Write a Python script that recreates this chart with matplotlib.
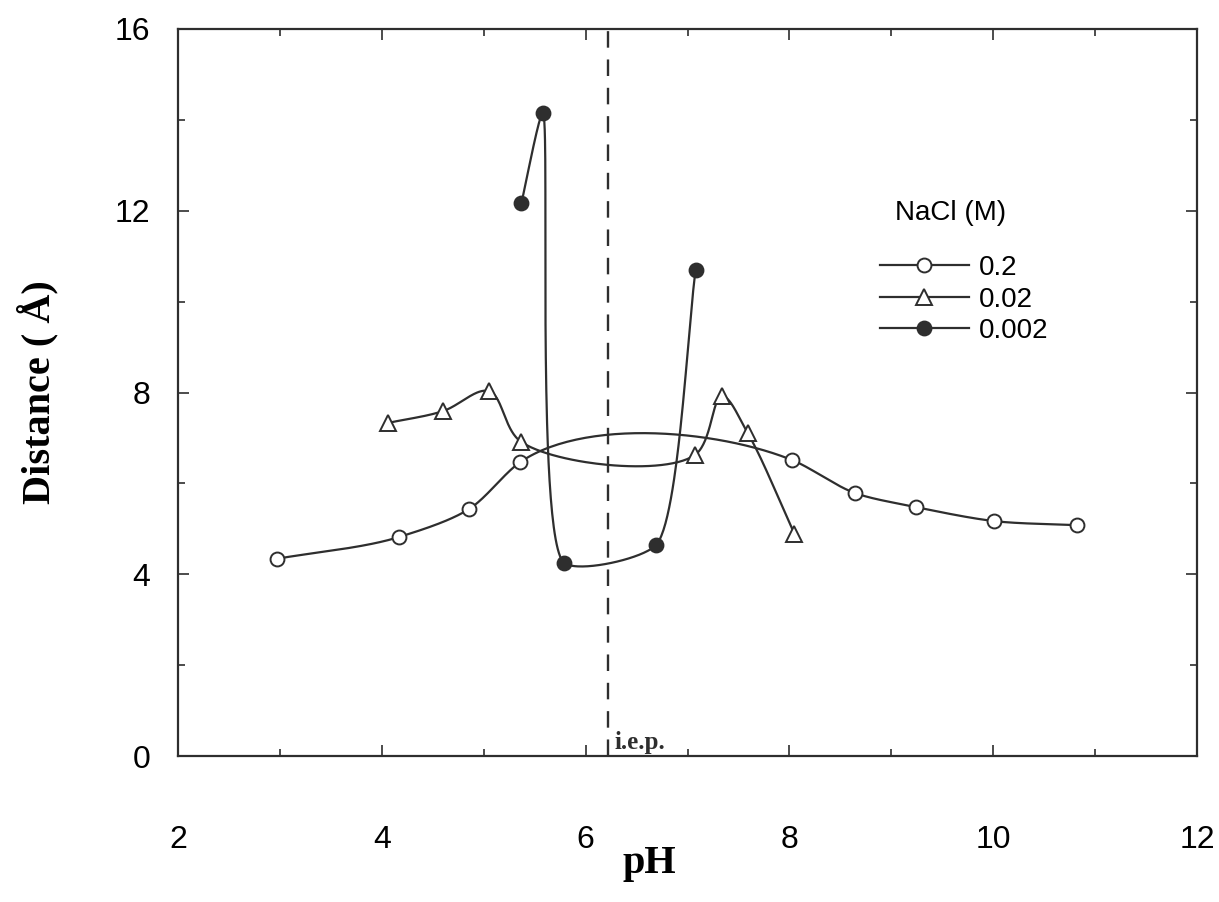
import numpy as np
import matplotlib.pyplot as plt
from matplotlib.ticker import MultipleLocator

# pH / distance readings for each NaCl concentration
ph_02 = [2.97, 4.17, 4.86, 5.36, 8.03, 8.64, 9.24, 10.01, 10.82]
dist_02 = [4.34, 4.82, 5.44, 6.47, 6.51, 5.79, 5.48, 5.17, 5.08]

ph_002 = [4.06, 4.60, 5.05, 5.37, 7.07, 7.34, 7.59, 8.05]
dist_002 = [7.33, 7.59, 8.03, 6.91, 6.62, 7.92, 7.11, 4.89]

ph_0002 = [5.37, 5.58, 5.79, 6.69, 7.08]
dist_0002 = [12.17, 14.15, 4.25, 4.64, 10.70]

labels = ["0.2", "0.02", "0.002"]
iep = 6.22

ink = "#2e2e2e"


def smooth(ax, xs, ys, alpha=0.5, tension=0.0, n=60):
    # Catmull-Rom style curve through the points, worked out in screen space
    pts = ax.transData.transform(np.column_stack([xs, ys]))
    p = np.vstack([2 * pts[0] - pts[1], pts, 2 * pts[-1] - pts[-2]])
    d = np.linalg.norm(np.diff(p, axis=0), axis=1) ** alpha
    t = np.concatenate([[0], np.cumsum(d)])
    u = np.linspace(0, 1, n)[:, None]
    h00 = 2 * u**3 - 3 * u**2 + 1
    h10 = u**3 - 2 * u**2 + u
    h01 = -2 * u**3 + 3 * u**2
    h11 = u**3 - u**2
    out = []
    for i in range(1, len(p) - 2):
        p0, p1, p2, p3 = p[i - 1:i + 3]
        t0, t1, t2, t3 = t[i - 1:i + 3]
        m1 = (p1 - p0) / (t1 - t0) - (p2 - p0) / (t2 - t0) + (p2 - p1) / (t2 - t1)
        m2 = (p2 - p1) / (t2 - t1) - (p3 - p1) / (t3 - t1) + (p3 - p2) / (t3 - t2)
        k = (t2 - t1) * (1 - tension)
        out.append(h00 * p1 + h10 * m1 * k + h01 * p2 + h11 * m2 * k)
    back = ax.transData.inverted().transform(np.vstack(out))
    return back[:, 0], back[:, 1]


fig = plt.figure(figsize=(12.19, 9.02), dpi=100, facecolor="white")
ax = fig.add_axes([178 / 1219, 1 - 756 / 902, 1019 / 1219, 727 / 902])
ax.set_xlim(2, 12)
ax.set_ylim(0, 16)

series = [(ph_02, dist_02, "o", "white", 10, 1.0, 0.1),
          (ph_002, dist_002, "^", "white", 11, 0.6, 0.0),
          (ph_0002, dist_0002, "o", ink, 10, 0.5, 0.4)]

for (x, y, m, fc, ms, a, ten), lab in zip(series, labels):
    sx, sy = smooth(ax, x, y, alpha=a, tension=ten)
    ax.plot(sx, sy, color=ink, lw=1.6, zorder=2)
    ax.plot(x, y, ls="none", marker=m, ms=ms, mfc=fc, mec=ink, mew=1.4, zorder=3)
    # proxy for the legend
    ax.plot([], [], color=ink, lw=1.6, marker=m, ms=ms, mfc=fc, mec=ink, mew=1.4, label=lab)

ax.axvline(iep, color=ink, lw=1.7, ls=(0, (7, 5)), zorder=1)
ax.text(iep + 0.06, 0.3, "i.e.p.", family="Liberation Serif", fontweight="bold",
        fontsize=18, color=ink, ha="left", va="center")

ax.xaxis.set_major_locator(MultipleLocator(2))
ax.xaxis.set_minor_locator(MultipleLocator(1))
ax.yaxis.set_major_locator(MultipleLocator(4))
ax.yaxis.set_minor_locator(MultipleLocator(2))
ax.tick_params(which="both", direction="in", top=True, right=True, colors=ink, width=1.2)
ax.tick_params(which="major", length=8)
ax.tick_params(which="minor", length=5)
ax.tick_params(axis="x", which="major", pad=50)
ax.tick_params(axis="y", which="major", pad=20)
for lbl in ax.get_xticklabels() + ax.get_yticklabels():
    lbl.set_family("Liberation Sans")
    lbl.set_fontsize(23)
    lbl.set_color("black")
for s in ax.spines.values():
    s.set_linewidth(1.6)
    s.set_color(ink)

ax.set_xlabel("pH", family="Liberation Serif", fontweight="bold", fontsize=29)
ax.set_ylabel("Distance ( Å)", family="Liberation Serif", fontweight="bold", fontsize=29)
ax.xaxis.set_label_coords(0.463, -0.122)
ax.yaxis.set_label_coords(-0.117, 0.5)

# legend title written separately so its gap to the rows can be set
fig.text(951 / 1219, 1 - 213 / 902, "NaCl (M)", family="Liberation Sans", fontsize=20,
         color="black", ha="center", va="center")
leg = ax.legend(loc="upper left", bbox_to_anchor=(880 / 1219, 1 - 255 / 902),
                bbox_transform=fig.transFigure, frameon=False, fontsize=20,
                handlelength=3.2, handletextpad=0.35, labelspacing=0.2, borderpad=0,
                borderaxespad=0)
for t in leg.get_texts():
    t.set_family("Liberation Sans")

fig.savefig("out.png", dpi=100, facecolor="white")
